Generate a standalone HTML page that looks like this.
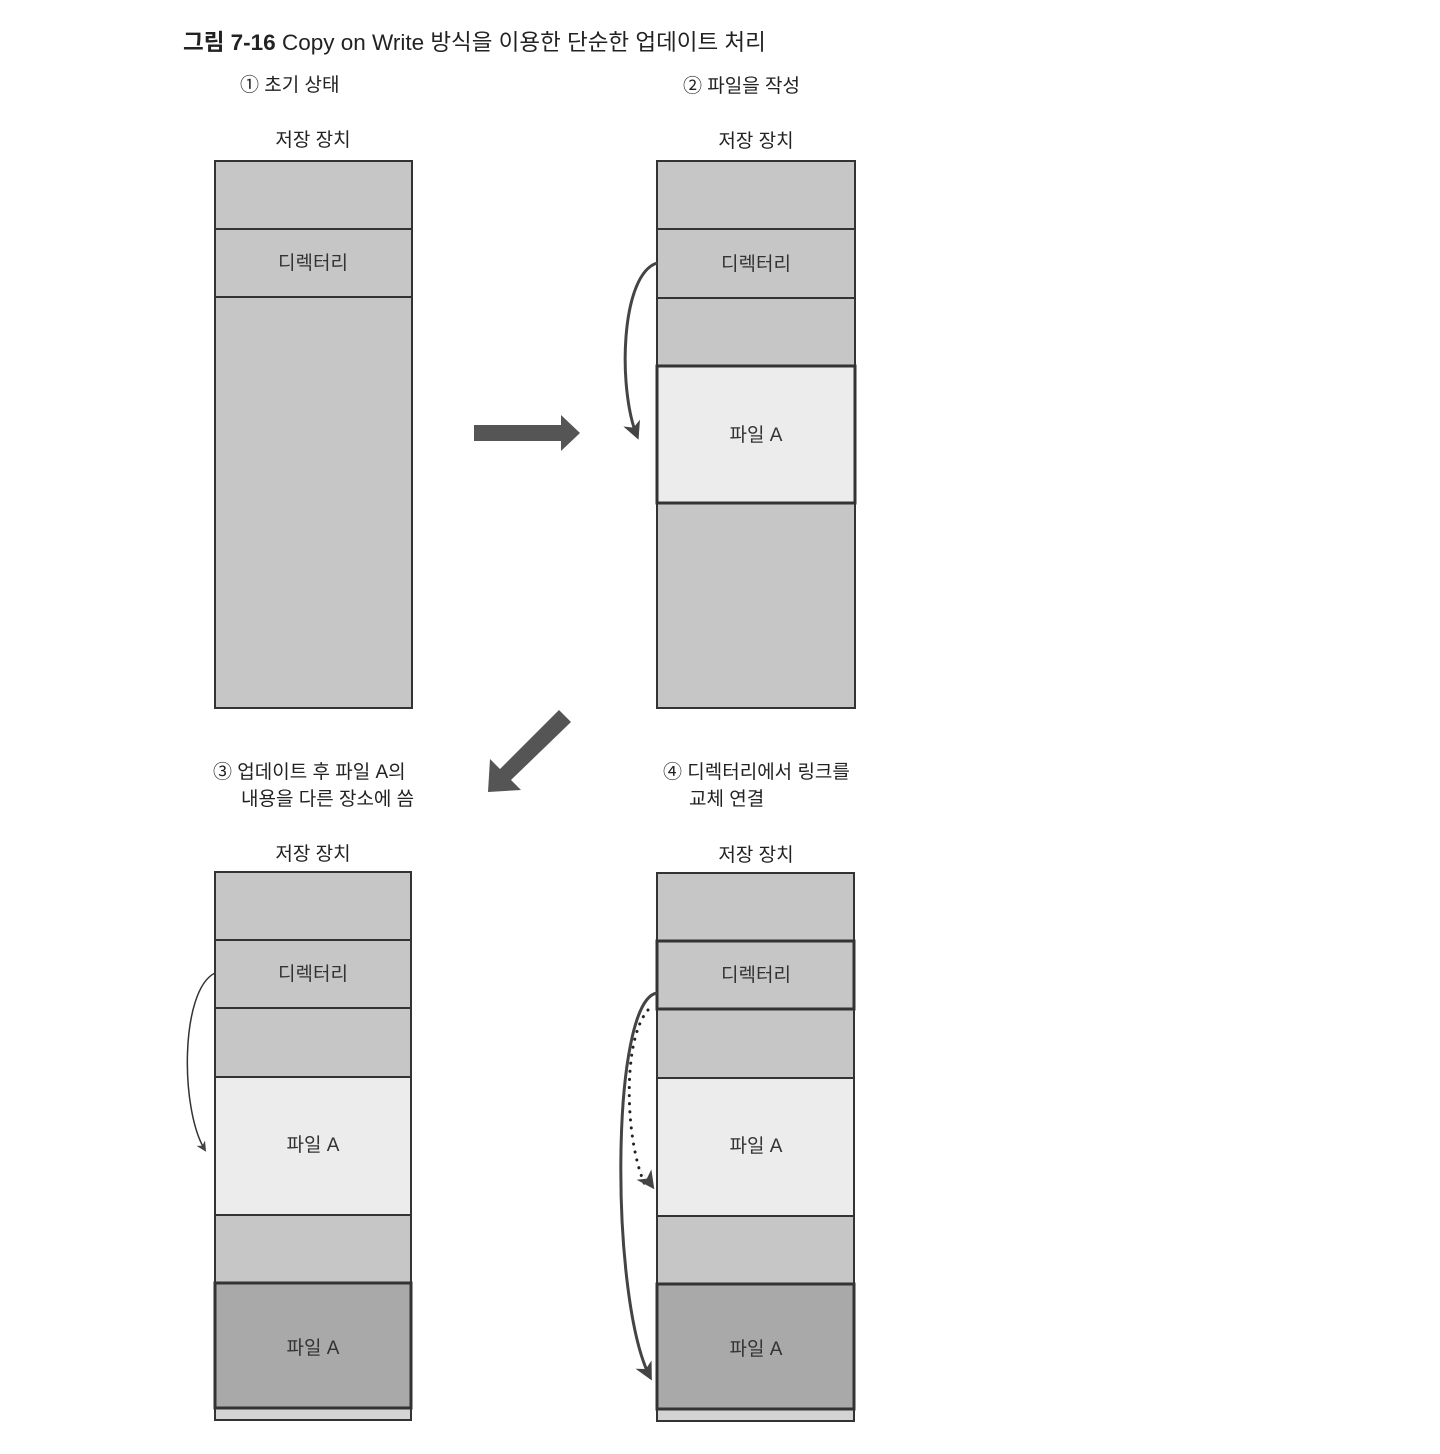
<!DOCTYPE html>
<html><head><meta charset="utf-8"><style>
html,body{margin:0;padding:0;background:#fff;}
svg{display:block;font-family:"Liberation Sans","Noto Sans CJK KR",sans-serif;}
</style></head><body>
<svg width="1440" height="1454" viewBox="0 0 1440 1454" xmlns="http://www.w3.org/2000/svg">
<defs>
<marker id="ah" markerWidth="10" markerHeight="10" refX="8" refY="5" orient="auto" markerUnits="userSpaceOnUse" viewBox="0 0 10 10"><path d="M0,0 L10,5 L0,10 L3,5 Z" fill="#444"/></marker>
<marker id="ah2" markerWidth="18" markerHeight="18" refX="14" refY="9" orient="auto" markerUnits="userSpaceOnUse" viewBox="0 0 18 18"><path d="M0,0 L18,9 L0,18 L5,9 Z" fill="#444"/></marker>
</defs>
<text x="183" y="50" font-size="22.5" fill="#222"><tspan font-weight="bold">그림 7-16</tspan>  Copy on Write 방식을 이용한 단순한 업데이트 처리</text>
<g font-size="19" fill="#222">
<text x="240" y="91">① 초기 상태</text>
<text x="683" y="92">② 파일을 작성</text>
<text x="313" y="146" text-anchor="middle">저장 장치</text>
<text x="756" y="147" text-anchor="middle">저장 장치</text>
<text x="213" y="778">③ 업데이트 후 파일 A의</text>
<text x="241" y="805">내용을 다른 장소에 씀</text>
<text x="663" y="778">④ 디렉터리에서 링크를</text>
<text x="689" y="805">교체 연결</text>
<text x="313" y="860" text-anchor="middle">저장 장치</text>
<text x="756" y="861" text-anchor="middle">저장 장치</text>
</g>
<g stroke="#333" stroke-width="2">
<rect x="215" y="161" width="197" height="68" fill="#c6c6c6"/>
<rect x="215" y="229" width="197" height="68" fill="#c6c6c6"/>
<rect x="215" y="297" width="197" height="411" fill="#c6c6c6"/>
<rect x="657" y="161" width="198" height="68" fill="#c6c6c6"/>
<rect x="657" y="229" width="198" height="69" fill="#c6c6c6"/>
<rect x="657" y="298" width="198" height="68" fill="#c6c6c6"/>
<rect x="657" y="503" width="198" height="205" fill="#c6c6c6"/>
<rect x="657" y="366" width="198" height="137" fill="#ececec" stroke-width="3"/>
<rect x="215" y="872" width="196" height="68" fill="#c6c6c6"/>
<rect x="215" y="940" width="196" height="68" fill="#c6c6c6"/>
<rect x="215" y="1008" width="196" height="69" fill="#c6c6c6"/>
<rect x="215" y="1077" width="196" height="138" fill="#ececec"/>
<rect x="215" y="1215" width="196" height="68" fill="#c6c6c6"/>
<rect x="215" y="1408" width="196" height="12" fill="#d4d4d4"/>
<rect x="215" y="1283" width="196" height="125" fill="#a9a9a9" stroke-width="3"/>
<rect x="657" y="873" width="197" height="68" fill="#c6c6c6"/>
<rect x="657" y="1009" width="197" height="69" fill="#c6c6c6"/>
<rect x="657" y="1078" width="197" height="138" fill="#ececec"/>
<rect x="657" y="1216" width="197" height="68" fill="#c6c6c6"/>
<rect x="657" y="1409" width="197" height="12" fill="#d4d4d4"/>
<rect x="657" y="941" width="197" height="68" fill="#c6c6c6" stroke-width="3"/>
<rect x="657" y="1284" width="197" height="125" fill="#a9a9a9" stroke-width="3"/>
</g>
<g font-size="19" fill="#333" text-anchor="middle">
<text x="313" y="269">디렉터리</text>
<text x="756" y="270">디렉터리</text>
<text x="756" y="441">파일 A</text>
<text x="313" y="980">디렉터리</text>
<text x="313" y="1151">파일 A</text>
<text x="313" y="1354">파일 A</text>
<text x="756" y="981">디렉터리</text>
<text x="756" y="1152">파일 A</text>
<text x="756" y="1355">파일 A</text>
</g>
<path d="M657,263 C620,275 618,390 637,436" fill="none" stroke="#444" stroke-width="3" marker-end="url(#ah2)"/>
<path d="M215,973 C180,990 180,1110 205,1150" fill="none" stroke="#333" stroke-width="1.5" marker-end="url(#ah)"/>
<path d="M648,1010 C622,1040 625,1140 645,1185" fill="none" stroke="#222" stroke-width="3" stroke-dasharray="0.1 8" stroke-linecap="round"/>
<path d="M657,993 C610,1000 610,1300 650,1377" fill="none" stroke="#444" stroke-width="3" marker-end="url(#ah2)"/>
<path d="M638,1166 L652,1186" stroke="#444" stroke-width="0.1" marker-end="url(#ah2)"/>
<polygon points="474,425 561,425 561,415 580,433 561,451 561,441 474,441" fill="#555"/>
<polygon points="559,710 571,722 511,780 521,790 488,792 490,759 500,769" fill="#555"/>
</svg>
</body></html>
